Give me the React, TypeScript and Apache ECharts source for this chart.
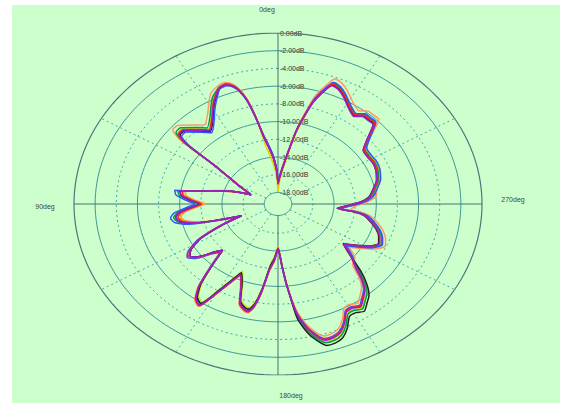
import React, { useEffect, useRef } from "react";
import * as echarts from "echarts";

// Angles (deg, counter-clockwise from top) shared by all traces
const ANGLES_DEG = [
  0, 2, 5, 8, 10, 12, 14, 16, 18, 20,
  23, 27, 30, 33, 38, 42, 47, 50, 52, 54,
  56, 58, 62, 66, 68, 70, 74, 77, 79, 81,
  84, 87, 90, 93, 96, 99, 102, 105, 108, 111,
  114, 118, 122, 125, 128, 132, 135, 138, 141, 144,
  147, 150, 153, 156, 159, 162, 165, 167, 169, 171,
  174, 177, 180, 183, 185, 188, 190, 192, 196, 199,
  202, 205, 208, 211, 214, 217, 220, 223, 226, 230,
  234, 238, 241, 245, 249, 253, 257, 261, 263, 265,
  268, 271, 275, 280, 286, 292, 297, 302, 307, 311,
  315, 318, 321, 324, 327, 330, 333, 336, 339, 341,
  344, 348, 352, 356,
];

const ORANGE_DB = [
  -16.7, -15.2, -13.7, -12.4, -11.4, -9.2, -7.0, -5.7, -5.0, -4.7,
  -4.8, -5.3, -6.2, -7.1, -8.0, -7.3, -6.3, -6.3, -7.6, -11.6,
  -13.0, -14.0, -15.2, -16.1, -16.3, -15.3, -13.8, -12.6, -11.5, -10.4,
  -10.6, -11.5, -12.4, -11.5, -10.4, -10.0, -10.3, -11.5, -13.3, -15.3,
  -13.3, -10.7, -9.3, -8.8, -9.3, -10.9, -11.6, -9.7, -7.3, -5.9,
  -5.5, -7.5, -9.2, -10.4, -9.4, -7.4, -6.8, -6.7, -7.4, -9.0,
  -11.8, -12.8, -14.3, -12.4, -10.3, -7.4, -6.1, -5.1, -3.8, -3.8,
  -4.1, -4.9, -6.0, -6.1, -5.8, -6.4, -7.0, -8.1, -9.5, -9.8,
  -11.0, -9.8, -8.8, -8.1, -8.4, -8.9, -9.6, -10.4, -11.2, -12.4,
  -12.0, -11.0, -10.0, -9.8, -9.2, -8.9, -8.8, -8.9, -8.8, -7.7,
  -5.8, -5.8, -5.8, -6.3, -6.0, -5.5, -4.9, -4.4, -4.2, -5.0,
  -6.7, -10.4, -13.9, -15.6,
];

const YELLOW_DB = [
  -18.0, -16.5, -15.0, -13.7, -12.7, -9.5, -7.3, -6.0, -5.3, -5.0,
  -5.1, -5.9, -6.8, -7.7, -8.6, -7.9, -6.9, -6.9, -8.2, -11.8,
  -13.2, -14.2, -15.4, -16.3, -16.5, -15.5, -14.0, -12.8, -11.7, -10.2,
  -10.4, -11.3, -12.2, -11.3, -10.2, -9.8, -10.1, -11.3, -13.6, -15.6,
  -13.6, -11.0, -9.6, -9.1, -9.6, -11.2, -11.9, -10.0, -7.9, -6.5,
  -6.1, -8.1, -9.8, -11.0, -10.0, -8.0, -7.4, -7.3, -8.0, -9.6,
  -12.4, -13.4, -14.5, -12.6, -10.5, -6.7, -5.4, -4.4, -3.1, -3.1,
  -3.4, -4.2, -5.3, -5.4, -5.1, -5.7, -6.3, -7.4, -8.8, -10.2,
  -11.4, -10.2, -9.2, -8.5, -8.8, -9.3, -10.0, -10.8, -11.8, -13.4,
  -12.6, -11.4, -10.4, -9.9, -9.3, -9.0, -8.9, -9.0, -8.9, -7.8,
  -6.4, -6.4, -6.4, -6.9, -6.6, -6.1, -5.5, -5.0, -4.8, -5.6,
  -7.3, -11.2, -14.7, -16.4,
];

const GREEN_DB = [
  -17.0, -15.5, -14.0, -12.7, -11.7, -9.4, -7.2, -5.9, -5.2, -4.9,
  -5.0, -5.7, -6.6, -7.5, -8.4, -7.7, -6.7, -6.7, -8.0, -11.8,
  -13.2, -14.2, -15.4, -16.3, -16.5, -15.5, -14.0, -12.8, -11.7, -9.7,
  -9.9, -10.8, -11.7, -10.8, -9.7, -9.3, -9.6, -10.8, -13.6, -15.6,
  -13.6, -11.0, -9.6, -9.1, -9.6, -11.2, -11.9, -10.0, -7.7, -6.3,
  -5.9, -7.9, -9.6, -10.8, -9.8, -7.8, -7.2, -7.1, -7.8, -9.4,
  -12.2, -13.2, -14.3, -12.4, -10.3, -6.6, -5.3, -4.3, -3.0, -3.0,
  -3.3, -4.1, -5.2, -5.3, -5.0, -5.6, -6.2, -7.3, -8.7, -10.2,
  -11.4, -10.2, -9.2, -8.5, -8.8, -9.3, -10.0, -10.8, -11.8, -13.4,
  -12.6, -11.4, -10.4, -10.0, -9.4, -9.1, -9.0, -9.1, -9.0, -7.9,
  -6.3, -6.3, -6.3, -6.8, -6.5, -6.0, -5.4, -4.9, -4.7, -5.5,
  -7.2, -10.7, -14.2, -15.9,
];

const BLACK_DB = [
  -16.8, -15.3, -13.8, -12.5, -11.5, -9.5, -7.3, -6.0, -5.3, -5.0,
  -5.1, -6.2, -7.1, -8.0, -8.9, -8.2, -7.2, -7.2, -8.5, -11.8,
  -13.2, -14.2, -15.4, -16.3, -16.5, -15.5, -14.0, -12.8, -11.7, -9.9,
  -10.1, -11.0, -11.9, -11.0, -9.9, -9.5, -9.8, -11.0, -13.6, -15.6,
  -13.6, -11.0, -9.6, -9.1, -9.6, -11.2, -11.9, -10.0, -7.7, -6.3,
  -5.9, -7.9, -9.6, -10.8, -9.8, -7.8, -7.2, -7.1, -7.8, -9.4,
  -12.2, -13.2, -14.3, -12.4, -10.3, -6.3, -5.0, -4.0, -2.7, -2.7,
  -3.0, -3.8, -4.9, -5.0, -4.7, -5.3, -5.9, -7.0, -8.4, -10.5,
  -11.7, -10.5, -9.5, -8.8, -9.1, -9.6, -10.3, -11.1, -12.1, -13.7,
  -12.9, -11.7, -10.7, -10.2, -9.6, -9.3, -9.2, -9.3, -9.2, -8.1,
  -6.5, -6.5, -6.5, -7.0, -6.7, -6.2, -5.6, -5.1, -4.9, -5.7,
  -7.4, -10.7, -14.2, -15.9,
];

const BLUE_DB = [
  -16.7, -15.2, -13.7, -12.4, -11.4, -9.6, -7.4, -6.1, -5.4, -5.1,
  -5.2, -6.4, -7.3, -8.2, -9.1, -8.4, -7.4, -7.4, -8.7, -11.8,
  -13.2, -14.2, -15.4, -16.3, -16.5, -15.5, -14.0, -12.8, -11.7, -9.4,
  -9.6, -10.5, -11.4, -10.5, -9.4, -9.0, -9.3, -10.5, -13.3, -15.3,
  -13.3, -10.7, -9.3, -8.8, -9.3, -10.9, -11.6, -9.7, -7.5, -6.1,
  -5.7, -7.7, -9.4, -10.6, -9.6, -7.6, -7.0, -6.9, -7.6, -9.2,
  -12.0, -13.0, -14.1, -12.2, -10.1, -7.1, -5.8, -4.8, -3.5, -3.5,
  -3.8, -4.6, -5.7, -5.8, -5.5, -6.1, -6.7, -7.8, -9.2, -10.1,
  -11.3, -10.1, -9.1, -8.4, -8.7, -9.2, -9.9, -10.7, -11.7, -13.3,
  -12.5, -11.3, -10.3, -9.8, -9.2, -8.9, -8.8, -8.9, -8.8, -7.7,
  -6.2, -6.2, -6.2, -6.7, -6.4, -5.9, -5.3, -4.8, -4.6, -5.4,
  -7.1, -10.7, -14.2, -15.9,
];

const RED_DB = [
  -17.1, -15.6, -14.1, -12.8, -11.8, -9.4, -7.2, -5.9, -5.2, -4.9,
  -5.0, -6.0, -6.9, -7.8, -8.7, -8.0, -7.0, -7.0, -8.3, -11.9,
  -13.3, -14.3, -15.5, -16.4, -16.6, -15.6, -14.1, -12.9, -11.8, -10.1,
  -10.3, -11.2, -12.1, -11.2, -10.1, -9.7, -10.0, -11.2, -13.5, -15.5,
  -13.5, -10.9, -9.5, -9.0, -9.5, -11.1, -11.8, -9.9, -7.4, -6.0,
  -5.6, -7.6, -9.3, -10.5, -9.5, -7.5, -6.9, -6.8, -7.5, -9.1,
  -11.9, -12.9, -14.3, -12.4, -10.3, -7.0, -5.7, -4.7, -3.4, -3.4,
  -3.7, -4.5, -5.6, -5.7, -5.4, -6.0, -6.6, -7.7, -9.1, -10.4,
  -11.6, -10.4, -9.4, -8.7, -9.0, -9.5, -10.2, -11.0, -12.0, -13.6,
  -12.8, -11.6, -10.6, -10.1, -9.5, -9.2, -9.1, -9.2, -9.1, -8.0,
  -6.4, -6.4, -6.4, -6.9, -6.6, -6.1, -5.5, -5.0, -4.8, -5.6,
  -7.3, -10.7, -14.2, -15.9,
];

const PURPLE_DB = [
  -17.0, -15.5, -14.0, -12.7, -11.7, -9.5, -7.3, -6.0, -5.3, -5.0,
  -5.1, -6.1, -7.0, -7.9, -8.8, -8.1, -7.1, -7.1, -8.4, -11.8,
  -13.2, -14.2, -15.4, -16.3, -16.5, -15.5, -14.0, -12.8, -11.7, -9.9,
  -10.1, -11.0, -11.9, -11.0, -9.9, -9.5, -9.8, -11.0, -13.6, -15.6,
  -13.6, -11.0, -9.6, -9.1, -9.6, -11.2, -11.9, -10.0, -7.5, -6.1,
  -5.7, -7.7, -9.4, -10.6, -9.6, -7.6, -7.0, -6.9, -7.6, -9.2,
  -12.0, -13.0, -14.3, -12.4, -10.3, -6.9, -5.6, -4.6, -3.3, -3.3,
  -3.6, -4.4, -5.5, -5.6, -5.3, -5.9, -6.5, -7.6, -9.0, -10.4,
  -11.6, -10.4, -9.4, -8.7, -9.0, -9.5, -10.2, -11.0, -12.0, -13.6,
  -12.8, -11.6, -10.6, -10.2, -9.6, -9.3, -9.2, -9.3, -9.2, -8.1,
  -6.6, -6.6, -6.6, -7.1, -6.8, -6.3, -5.7, -5.2, -5.0, -5.8,
  -7.5, -10.7, -14.2, -15.9,
];

const TRACES = [
  { name: "t1", color: "#FF9966", values: ORANGE_DB },
  { name: "t2", color: "#D8D800", values: YELLOW_DB },
  { name: "t3", color: "#00A040", values: GREEN_DB },
  { name: "t4", color: "#202020", values: BLACK_DB },
  { name: "t5", color: "#3355FF", values: BLUE_DB },
  { name: "t6", color: "#FF2020", values: RED_DB },
  { name: "t7", color: "#9A1FC8", values: PURPLE_DB },
];

// Radial ticks (dB) — labels on the upper vertical axis
const RADIAL_TICKS_DB = [0, -2, -4, -6, -8, -10, -12, -14, -16, -18];
const SOLID_RINGS_DB = [-18, -14, -10, -6, -2];
const DOTTED_RINGS_DB = [-16, -12, -8, -4];
const OUTER_RING_DB = 0;
const MAJOR_SPOKES_DEG = [0, 90, 180, 270];
const MINOR_SPOKES_DEG = [30, 60, 120, 150, 210, 240, 300, 330];
const ANGLE_LABELS = [
  { text: "0deg", x: 267, y: 9.5 },
  { text: "90deg", x: 45, y: 206 },
  { text: "180deg", x: 291, y: 395 },
  { text: "270deg", x: 513, y: 199.5 },
];

const R_MIN = -18;
const HOLE = 1.3;
const U_MAX = 0 - R_MIN + HOLE;

function toXY(angleDeg: number, db: number): [number, number] {
  const u = db - R_MIN + HOLE;
  const t = (angleDeg * Math.PI) / 180;
  return [-u * Math.sin(t), u * Math.cos(t)];
}

function ringData(db: number) {
  const pts: [number, number][] = [];
  for (let a = 0; a <= 360; a += 2) pts.push(toXY(a, db));
  return pts;
}

function spokeData(angleDeg: number) {
  return [toXY(angleDeg, R_MIN), toXY(angleDeg, OUTER_RING_DB)];
}

export default function App() {
  const ref = useRef<HTMLDivElement>(null);
  useEffect(() => {
    if (!ref.current) return;
    const chart = echarts.init(ref.current, undefined, { renderer: "svg" });
    const base = {
      type: "line",
      symbol: "none",
      silent: true,
      animation: false,
    };
    const series: any[] = [];
    DOTTED_RINGS_DB.forEach((db) =>
      series.push({
        ...base,
        data: ringData(db),
        lineStyle: { color: "#3FA8A8", width: 1, type: [2, 3] },
        z: 1,
      })
    );
    MINOR_SPOKES_DEG.forEach((a) =>
      series.push({
        ...base,
        data: spokeData(a),
        lineStyle: { color: "#48A8A8", width: 1, type: [2, 3] },
        z: 1,
      })
    );
    SOLID_RINGS_DB.forEach((db) =>
      series.push({
        ...base,
        data: ringData(db),
        lineStyle: { color: "#3E9898", width: 1 },
        z: 2,
      })
    );
    series.push({
      ...base,
      data: ringData(OUTER_RING_DB),
      lineStyle: { color: "#4A7878", width: 1.2 },
      z: 2,
    });
    MAJOR_SPOKES_DEG.forEach((a) =>
      series.push({
        ...base,
        data: spokeData(a),
        lineStyle: { color: "#4A7070", width: 1 },
        z: 2,
      })
    );
    TRACES.forEach((tr) => {
      const pts = tr.values.map((v, i) => toXY(ANGLES_DEG[i], v));
      pts.push(pts[0]);
      series.push({
        ...base,
        name: tr.name,
        data: pts,
        smooth: 0.2,
        lineStyle: { color: tr.color, width: 1.5 },
        z: 3,
      });
    });

    chart.setOption({
      animation: false,
      grid: { left: 74, top: 33, width: 408, height: 342 },
      xAxis: {
        type: "value",
        min: -U_MAX,
        max: U_MAX,
        show: false,
        splitLine: { show: false },
      },
      yAxis: {
        type: "value",
        position: "left",
        offset: -204,
        min: -U_MAX,
        max: U_MAX,
        splitLine: { show: false },
        axisTick: { show: false },
        axisLine: { show: false },
        axisLabel: {
          inside: true,
          margin: 2,
          fontSize: 7,
          color: "#333",
          fontFamily: "Liberation Sans, Arial, sans-serif",
          customValues: RADIAL_TICKS_DB.map((d) => d - R_MIN + HOLE),
          showMaxLabel: true,
          showMinLabel: true,
          formatter: (v: number) => (v - U_MAX).toFixed(2) + "dB",
        },
      },
      graphic: ANGLE_LABELS.map((l) => ({
        type: "text",
        x: l.x,
        y: l.y,
        silent: true,
        style: {
          text: l.text,
          fontSize: 7,
          fill: "#444",
          fontFamily: "Liberation Sans, Arial, sans-serif",
          align: "center",
          verticalAlign: "middle",
        },
      })),
      series,
    });
    return () => chart.dispose();
  }, []);

  return (
    <div
      style={{
        position: "fixed",
        left: 0,
        top: 0,
        width: 564,
        height: 403,
        background: "#ffffff",
      }}
    >
      <div
        style={{
          position: "absolute",
          left: 12,
          top: 5,
          width: 548,
          height: 398,
          background: "#CCFFCC",
        }}
      />
      <div
        ref={ref}
        style={{ position: "absolute", left: 0, top: 0, width: 564, height: 403 }}
      />
    </div>
  );
}
